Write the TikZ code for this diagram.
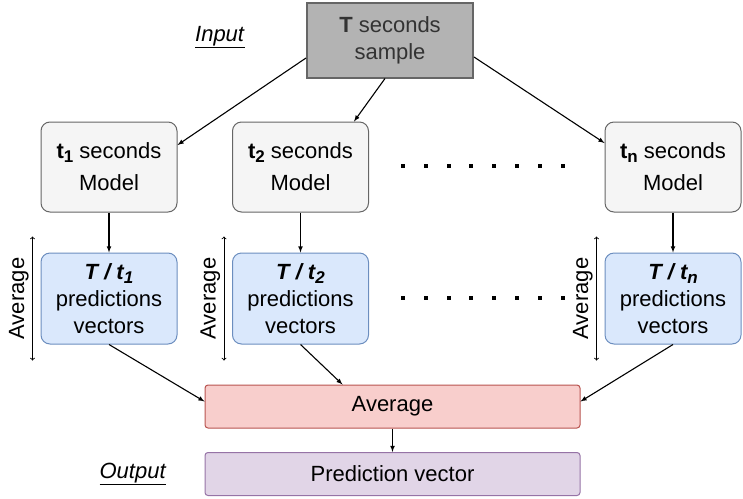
\documentclass[tikz,border=0pt]{standalone}
\usepackage{fontspec}
\setmainfont{Liberation Sans}
\usepackage{tikz}
\definecolor{sample-gray}{RGB}{179, 179, 179}
\definecolor{frame-gray}{RGB}{102, 102, 102}
\definecolor{model-gray}{RGB}{245, 245, 245}
\definecolor{pred-blue}{RGB}{218, 232, 252}
\definecolor{pred-edge}{RGB}{108, 142, 191}
\definecolor{avg-red}{RGB}{248, 206, 204}
\definecolor{avg-edge}{RGB}{184, 84, 80}
\definecolor{out-purple}{RGB}{225, 213, 231}
\definecolor{out-edge}{RGB}{150, 115, 166}
\newcommand{\lowidx}[1]{\raisebox{-0.35ex}{\fontsize{17}{17}\selectfont #1}}

\begin{document}
\begin{tikzpicture}[x=1pt, y=-1pt,
    font=\fontsize{22}{27}\selectfont,
    modelbox/.style={draw=frame-gray, line width=1pt, fill=model-gray, rounded corners=9pt, minimum width=136pt, minimum height=90pt, align=center},
    predbox/.style={draw=pred-edge, line width=1pt, fill=pred-blue, rounded corners=9pt, minimum width=136pt, minimum height=91pt, align=center},
    widebox/.style={line width=1pt, rounded corners=3pt, minimum width=375pt, minimum height=43pt},
    flow/.style={-latex, line width=1.1pt},
    avgarrow/.style={<->, line width=0.9pt}]
    \useasboundingbox (0,0) rectangle (743,498);

    \node[draw=frame-gray, line width=2pt, fill=sample-gray, text=black!80, minimum width=166pt, minimum height=75pt, align=center] (sample) at (390,40) {\textbf{T} seconds\\sample};
    \node (input) at (220,37) {\underline{\textit{Input}}};

    \node[modelbox] (m1) at (109,167) {\textbf{t\lowidx{1}} seconds\\[5pt]Model};
    \node[modelbox] (m2) at (300.5,167) {\textbf{t\lowidx{2}} seconds\\[5pt]Model};
    \node[modelbox] (mn) at (673,167) {\textbf{t\lowidx{n}} seconds\\[5pt]Model};

    \node[predbox] (p1) at (109,298.5) {\textbf{\textit{T / t\lowidx{1}}}\\predictions\\vectors};
    \node[predbox] (p2) at (300.5,298.5) {\textbf{\textit{T / t\lowidx{2}}}\\predictions\\vectors};
    \node[predbox] (pn) at (673,298.5) {\textbf{\textit{T / t\lowidx{n}}}\\predictions\\vectors};

    \node[widebox, draw=avg-edge, fill=avg-red] (avg) at (392.5,406.5) {Average};
    \node[widebox, draw=out-edge, fill=out-purple] (pv) at (392.5,474) {Prediction vector};
    \node (output) at (133,474) {\underline{\textit{Output}}};

    % dotted gaps between the columns
    \foreach \i in {0,...,7} {
        \fill ({403+\i*22.8-2},164) rectangle ++(4,4);
        \fill ({403+\i*22.8-2},296) rectangle ++(4,4);
    }

    \draw[flow] ([yshift=-18]sample.west) -- ([yshift=22]m1.east);
    \draw[flow] ([xshift=-5]sample.south) -- ([xshift=-15]m2.north east);
    \draw[flow] ([yshift=-17]sample.east) -- ([yshift=24]mn.west);

    \draw[flow] (m1) -- (p1);
    \draw[flow] (m2) -- (p2);
    \draw[flow] (mn) -- (pn);

    \draw[avgarrow] ([xshift=-8,yshift=16]p1.north west) -- node[midway, above, rotate=90] {Average} ([xshift=-8,yshift=-16]p1.south west);
    \draw[avgarrow] ([xshift=-8,yshift=16]p2.north west) -- node[midway, above, rotate=90] {Average} ([xshift=-8,yshift=-16]p2.south west);
    \draw[avgarrow] ([xshift=-8,yshift=16]pn.north west) -- node[midway, above, rotate=90] {Average} ([xshift=-8,yshift=-16]pn.south west);

    \draw[flow] (p1.south) -- ([yshift=5]avg.west);
    \draw[flow] (p2.south) -- ([xshift=-50]avg.north);
    \draw[flow] (pn.south) -- ([yshift=5]avg.east);
    \draw[flow] (avg) -- (pv);
\end{tikzpicture}
\end{document}
